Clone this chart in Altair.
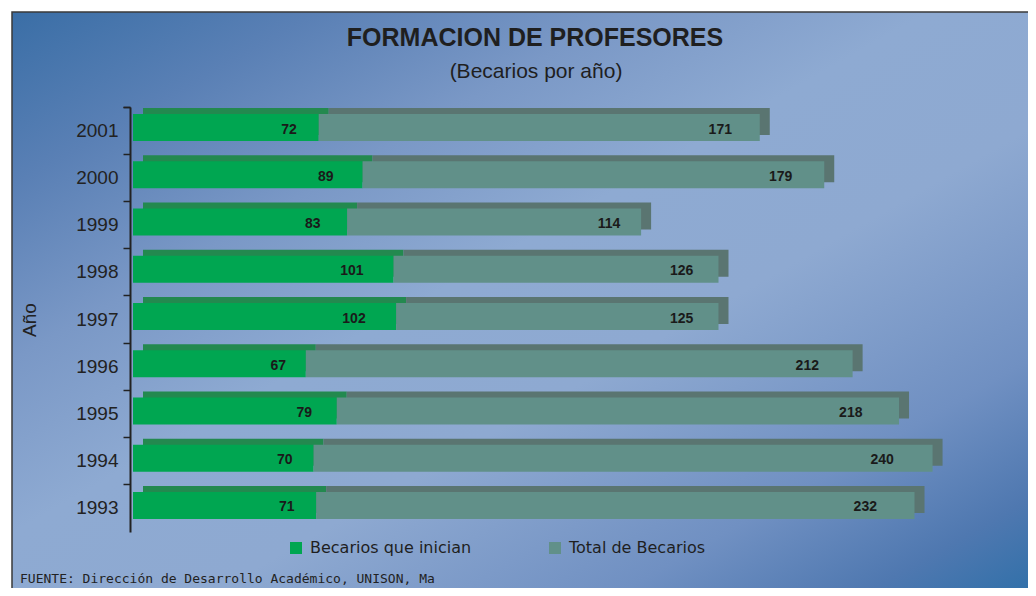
import altair as alt
import pandas as pd

years = ["2001", "2000", "1999", "1998", "1997", "1996", "1995", "1994", "1993"]
inician = [72, 89, 83, 101, 102, 67, 79, 70, 71]
total = [171, 179, 114, 126, 125, 212, 218, 240, 232]
series = ["Becarios que inician", "Total de Becarios"]
front_colors = ["#00a651", "#619089"]
depth_colors = ["#23894f", "#5a7571"]
title_text = "FORMACION DE PROFESORES"
subtitle_text = "(Becarios por año)"
footer_text = "FUENTE: Dirección de Desarrollo Académico, UNISON, Ma"

rows = []
for y, a, b in zip(years, inician, total):
    rows.append({"year": y, "serie": series[0], "value": a, "order": 0})
    rows.append({"year": y, "serie": series[1], "value": b, "order": 1})
df = pd.DataFrame(rows)

W, H = 895, 425

base = alt.Chart(df).transform_stack(
    stack="value", groupby=["year"], as_=["v0", "v1"], sort=[alt.SortField("order")]
)

y_enc = alt.Y(
    "year:N",
    sort=years,
    scale=alt.Scale(paddingInner=0, paddingOuter=0),
    axis=alt.Axis(
        title="Año",
        bandPosition=0,
        tickExtra=True,
        tickSize=7,
        tickColor="#222222",
        tickWidth=1.5,
        domainColor="#222222",
        domainWidth=2,
        labelFont="Liberation Sans",
        labelFontSize=19,
        labelColor="#222222",
        labelPadding=5,
        titleFont="Liberation Sans",
        titleFontSize=19,
        titleFontWeight="normal",
        titleColor="#222222",
        titlePadding=36,
        offset=3,
        grid=False,
        zindex=1,
    ),
)
x_scale = alt.Scale(domain=[0, 347], nice=False, zero=True)

grad = alt.LinearGradient(
    gradient="linear",
    x1=0, y1=0, x2=1, y2=1,
    stops=[
        alt.GradientStop(color="#3a6ea6", offset=0),
        alt.GradientStop(color="#5a80b5", offset=0.15),
        alt.GradientStop(color="#7a98c6", offset=0.3),
        alt.GradientStop(color="#8eaad2", offset=0.45),
        alt.GradientStop(color="#8ea9d1", offset=0.6),
        alt.GradientStop(color="#7090c2", offset=0.8),
        alt.GradientStop(color="#4f78b0", offset=0.92),
        alt.GradientStop(color="#3170a9", offset=1),
    ],
)

bg = alt.Chart(pd.DataFrame({"k": [0]})).mark_rect(
    fill=grad, stroke="#3a3a3a", strokeWidth=1.5
).encode(
    x=alt.value(-121), x2=alt.value(898), y=alt.value(-95), y2=alt.value(484)
)

titles = alt.Chart(
    pd.DataFrame({"t": [title_text]})
).mark_text(
    align="center", baseline="alphabetic", font="Liberation Sans",
    fontSize=25, fontWeight="bold", color="#1f1f1f",
).encode(x=alt.value(402), y=alt.value(-61), text="t:N")

subtitle = alt.Chart(
    pd.DataFrame({"t": [subtitle_text]})
).mark_text(
    align="center", baseline="alphabetic", font="Liberation Sans",
    fontSize=21, color="#1f1f1f",
).encode(x=alt.value(403), y=alt.value(-29), text="t:N")

depth_layers = []
for s, c in zip(series, depth_colors):
    depth_layers.append(
        base.transform_filter(alt.datum.serie == s)
        .mark_bar(size=27, color=c, xOffset=10, x2Offset=10, yOffset=-9)
        .encode(
            x=alt.X("v0:Q", scale=x_scale, axis=None),
            x2="v1:Q",
            y=y_enc,
        )
    )

front = base.mark_bar(size=27, yOffset=-3).encode(
    x=alt.X("v0:Q", scale=x_scale, axis=None),
    x2="v1:Q",
    y=y_enc,
    color=alt.Color(
        "serie:N",
        scale=alt.Scale(domain=series, range=front_colors),
        legend=alt.Legend(
            title=None,
            orient="none",
            legendX=155,
            legendY=433,
            direction="horizontal",
            symbolType="square",
            symbolSize=144,
            symbolStrokeWidth=0,
            labelFont="DejaVu Sans",
            labelFontSize=16,
            labelColor="#1f1f1f",
            labelLimit=400,
            columnPadding=75,
            labelOffset=6,
            padding=0,
        ),
    ),
)

# label placement along each segment (Excel 3D style, near the inner end)
text_layers = []
for s, frac in zip(series, [0.84, 0.937]):
    text_layers.append(
        base.transform_filter(alt.datum.serie == s)
        .transform_calculate(lx=f"datum.v1 * {frac}")
        .mark_text(
            align="center", baseline="middle", dy=-1,
            font="Liberation Sans", fontSize=14, fontWeight="bold", color="#1a1a1a",
        )
        .encode(x=alt.X("lx:Q", scale=x_scale, axis=None), y=y_enc, text="value:Q")
    )

footer = alt.Chart(pd.DataFrame({"t": [footer_text]})).mark_text(
    align="left", baseline="middle", font="DejaVu Sans Mono", fontSize=13, color="#222222"
).encode(x=alt.value(-113), y=alt.value(472), text="t:N")

chart = alt.layer(bg, titles, subtitle, *depth_layers, front, *text_layers, footer).properties(
    width=W,
    height=H,
    autosize=alt.AutoSizeParams(type="none"),
    padding={"left": 125, "top": 99, "right": 0, "bottom": 56},
).configure_view(stroke=None)

chart.save("out.html", embed_options={"renderer": "svg", "actions": False})
